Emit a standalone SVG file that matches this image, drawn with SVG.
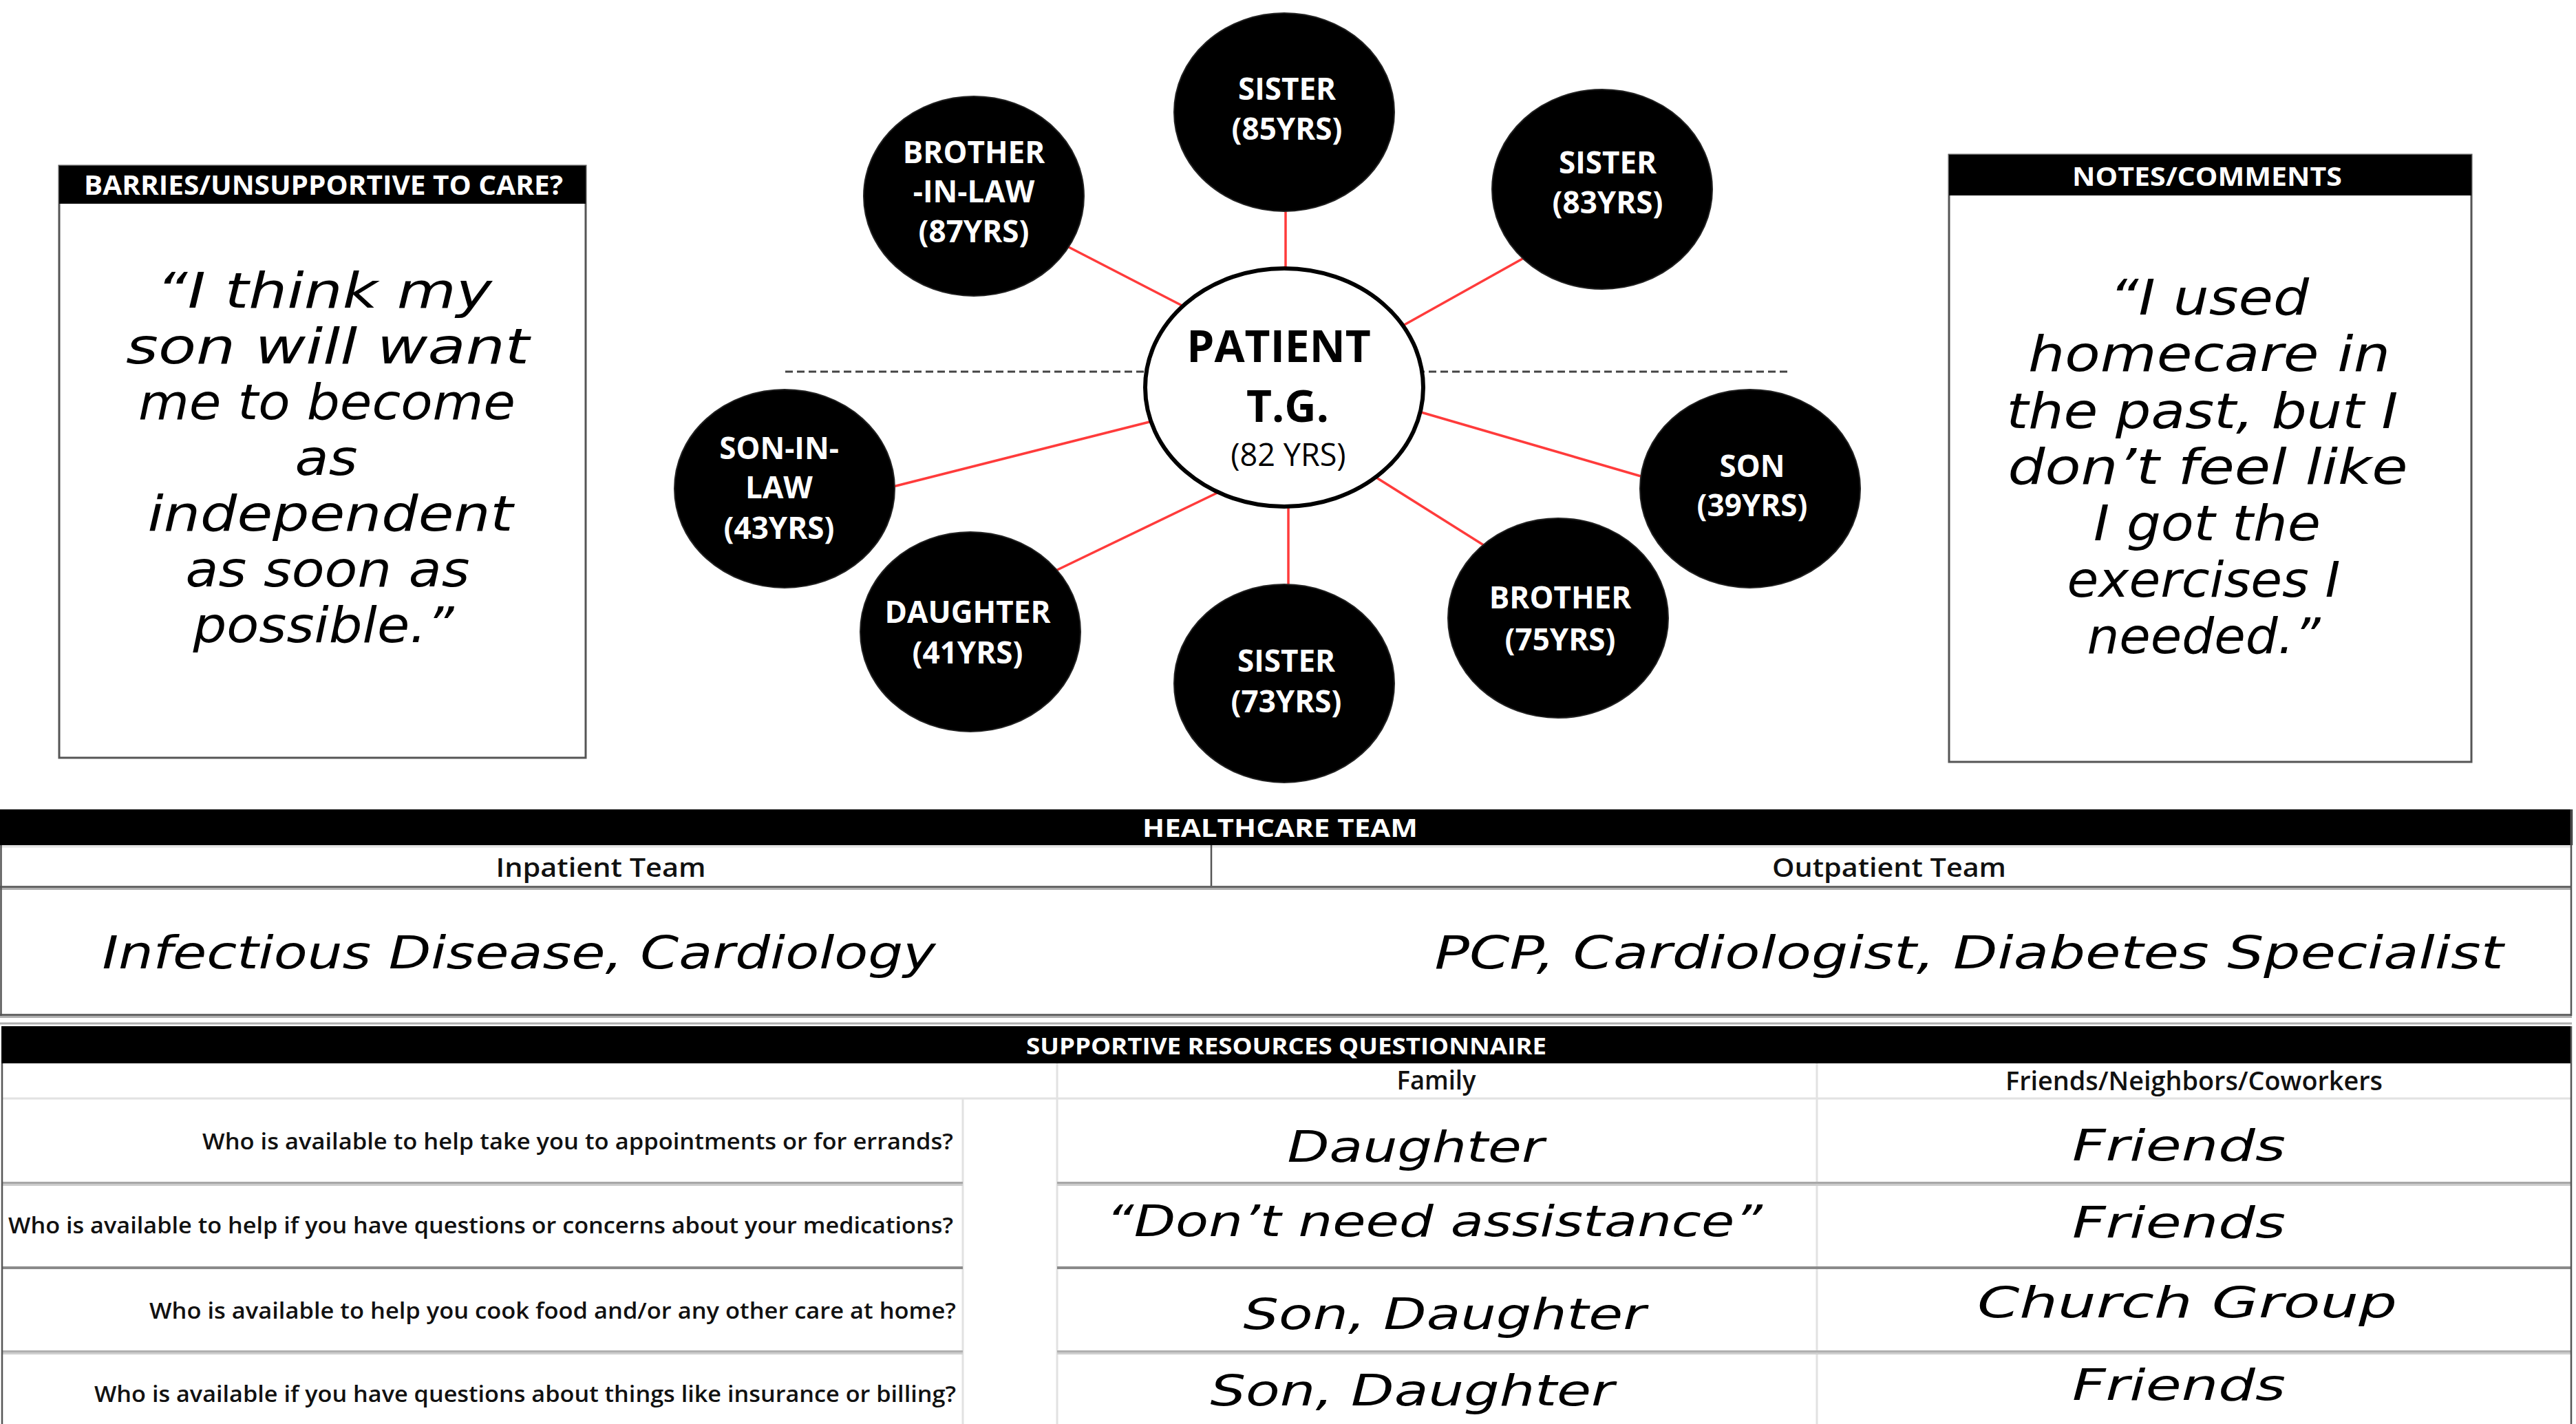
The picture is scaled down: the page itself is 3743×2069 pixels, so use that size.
<svg xmlns="http://www.w3.org/2000/svg" width="3743" height="2069" viewBox="0 0 3743 2069">
<defs>
<style>
.bg{fill:#ffffff}
.node{fill:#000000;stroke:#222222;stroke-width:2}
.nt{fill:#ffffff;font-family:"Open Sans","Liberation Sans",sans-serif;font-weight:700;font-size:44px;text-anchor:middle}
.pt{fill:#000000;font-family:"Open Sans","Liberation Sans",sans-serif;text-anchor:middle}
.conn{stroke:#ff3b3b;stroke-width:3.5;fill:none}
.dash{stroke:#444444;stroke-width:3;stroke-dasharray:11 6;fill:none}
.box{fill:#ffffff;stroke:#555555;stroke-width:3}
.bar{fill:#000000}
.ht{fill:#ffffff;font-family:"Open Sans","Liberation Sans",sans-serif;font-weight:700;text-anchor:middle}
.script{fill:#000000;font-family:"DejaVu Sans","Liberation Sans",sans-serif;font-style:italic;text-anchor:middle}
.sub{fill:#111111;font-family:"Open Sans","Liberation Sans",sans-serif;font-weight:600;font-size:38px;text-anchor:middle}
.q{fill:#111111;font-family:"Open Sans","Liberation Sans",sans-serif;font-weight:600;font-size:32px;text-anchor:end}
.lg{stroke:#e2e2e2;stroke-width:3;fill:none}
.dk{stroke:#666666;stroke-width:3;fill:none}
.lt{stroke:#b0b0b0;stroke-width:3;fill:none}
.bd{stroke:#555555;stroke-width:2.5;fill:none}
</style>
</defs>
<rect class="bg" x="0" y="0" width="3743" height="2069"/>

<!-- Left box -->
<g id="barriers-box">
<rect class="box" x="86" y="241" width="765" height="860"/>
<rect class="bar" x="86" y="241" width="765" height="55"/>
<text class="ht" x="470" y="283" font-size="40" textLength="696" lengthAdjust="spacingAndGlyphs">BARRIES/UNSUPPORTIVE TO CARE?</text>
<g class="script" font-size="72">
<text x="471" y="447" textLength="488" lengthAdjust="spacingAndGlyphs">“I think my</text>
<text x="476" y="528" textLength="586" lengthAdjust="spacingAndGlyphs">son will want</text>
<text x="475" y="609" textLength="548" lengthAdjust="spacingAndGlyphs">me to become</text>
<text x="474" y="690" textLength="91" lengthAdjust="spacingAndGlyphs">as</text>
<text x="480" y="771" textLength="531" lengthAdjust="spacingAndGlyphs">independent</text>
<text x="476" y="852" textLength="413" lengthAdjust="spacingAndGlyphs">as soon as</text>
<text x="470" y="933" textLength="379" lengthAdjust="spacingAndGlyphs">possible.”</text>
</g>
</g>

<!-- Right box -->
<g id="notes-box">
<rect class="box" x="2832" y="225" width="759" height="882"/>
<rect class="bar" x="2832" y="225" width="759" height="59"/>
<text class="ht" x="3207" y="270" font-size="38" textLength="392" lengthAdjust="spacingAndGlyphs">NOTES/COMMENTS</text>
<g class="script" font-size="72">
<text x="3210" y="457" textLength="290" lengthAdjust="spacingAndGlyphs">“I used</text>
<text x="3210" y="539" textLength="526" lengthAdjust="spacingAndGlyphs">homecare in</text>
<text x="3200" y="622" textLength="569" lengthAdjust="spacingAndGlyphs">the past, but I</text>
<text x="3208" y="703" textLength="581" lengthAdjust="spacingAndGlyphs">don’t feel like</text>
<text x="3207" y="785" textLength="330" lengthAdjust="spacingAndGlyphs">I got the</text>
<text x="3202" y="867" textLength="397" lengthAdjust="spacingAndGlyphs">exercises I</text>
<text x="3202" y="949" textLength="339" lengthAdjust="spacingAndGlyphs">needed.”</text>
</g>
</g>

<!-- Divider dashed line -->
<g id="divider">
<line class="dash" x1="1141" y1="540" x2="2600" y2="540"/>
</g>

<!-- Connectors -->
<g id="connectors">
<line class="conn" x1="1868" y1="290" x2="1868" y2="410"/>
<line class="conn" x1="1547" y1="356" x2="1735" y2="453"/>
<line class="conn" x1="2230" y1="366" x2="2035" y2="475"/>
<line class="conn" x1="1286" y1="710" x2="1690" y2="608"/>
<line class="conn" x1="2405" y1="698" x2="2065" y2="599"/>
<line class="conn" x1="1530" y1="831" x2="1775" y2="713"/>
<line class="conn" x1="1872" y1="860" x2="1872" y2="725"/>
<line class="conn" x1="2170" y1="801" x2="2000" y2="694"/>
</g>

<!-- Nodes -->
<g id="patient">
<ellipse cx="1866" cy="563" rx="202" ry="173" fill="#ffffff" stroke="#000000" stroke-width="6"/>
<text class="pt" x="1858" y="526" font-size="64" font-weight="700">PATIENT</text>
<text class="pt" x="1871" y="613" font-size="64" font-weight="700">T.G.</text>
<text class="pt" x="1872" y="677" font-size="45">(82 YRS)</text>
</g>
<g id="sister-85">
<ellipse class="node" cx="1866" cy="163" rx="160" ry="144"/>
<text class="nt" x="1870" y="145">SISTER</text>
<text class="nt" x="1870" y="203">(85YRS)</text>
</g>
<g id="brother-in-law">
<ellipse class="node" cx="1415" cy="285" rx="160" ry="145"/>
<text class="nt" x="1415" y="237">BROTHER</text>
<text class="nt" x="1415" y="294">-IN-LAW</text>
<text class="nt" x="1415" y="352">(87YRS)</text>
</g>
<g id="sister-83">
<ellipse class="node" cx="2328" cy="275" rx="160" ry="145"/>
<text class="nt" x="2336" y="252">SISTER</text>
<text class="nt" x="2336" y="310">(83YRS)</text>
</g>
<g id="son-in-law">
<ellipse class="node" cx="1140" cy="710" rx="160" ry="144"/>
<text class="nt" x="1132" y="667">SON-IN-</text>
<text class="nt" x="1132" y="724">LAW</text>
<text class="nt" x="1132" y="783">(43YRS)</text>
</g>
<g id="son">
<ellipse class="node" cx="2543" cy="710" rx="160" ry="144"/>
<text class="nt" x="2546" y="693">SON</text>
<text class="nt" x="2546" y="750">(39YRS)</text>
</g>
<g id="daughter">
<ellipse class="node" cx="1410" cy="918" rx="160" ry="145"/>
<text class="nt" x="1406" y="905">DAUGHTER</text>
<text class="nt" x="1406" y="964">(41YRS)</text>
</g>
<g id="sister-73">
<ellipse class="node" cx="1866" cy="993" rx="160" ry="144"/>
<text class="nt" x="1869" y="976">SISTER</text>
<text class="nt" x="1869" y="1035">(73YRS)</text>
</g>
<g id="brother">
<ellipse class="node" cx="2264" cy="898" rx="160" ry="145"/>
<text class="nt" x="2267" y="884">BROTHER</text>
<text class="nt" x="2267" y="945">(75YRS)</text>
</g>

<!-- Healthcare team table -->
<g id="healthcare-team">
<rect class="bar" x="0" y="1176" width="3738" height="52"/>
<text class="ht" x="1860" y="1216" font-size="36" textLength="400" lengthAdjust="spacingAndGlyphs">HEALTHCARE TEAM</text>
<line class="lg" x1="0" y1="1230" x2="3736" y2="1230"/>
<line class="bd" x1="1760" y1="1228" x2="1760" y2="1289"/>
<text class="sub" x="873" y="1274" textLength="305" lengthAdjust="spacingAndGlyphs">Inpatient Team</text>
<text class="sub" x="2745" y="1274" textLength="340" lengthAdjust="spacingAndGlyphs">Outpatient Team</text>
<line class="dk" x1="0" y1="1288.5" x2="3737" y2="1288.5"/>
<line class="lt" x1="0" y1="1291.5" x2="3737" y2="1291.5"/>
<text class="script" x="754" y="1407" font-size="66" textLength="1211" lengthAdjust="spacingAndGlyphs">Infectious Disease, Cardiology</text>
<text class="script" x="2861" y="1407" font-size="66" textLength="1553" lengthAdjust="spacingAndGlyphs">PCP, Cardiologist, Diabetes Specialist</text>
<line class="dk" x1="0" y1="1474.5" x2="3737" y2="1474.5"/>
<line class="lt" x1="0" y1="1477.5" x2="3737" y2="1477.5"/>
<line class="bd" x1="1.5" y1="1228" x2="1.5" y2="1476"/>
<line class="bd" x1="3736" y1="1176" x2="3736" y2="1476"/>
</g>

<!-- Supportive resources questionnaire -->
<g id="questionnaire">
<line class="lt" x1="0" y1="1487" x2="3737" y2="1487"/>
<rect class="bar" x="2" y="1491" width="3735" height="54"/>
<text class="ht" x="1869" y="1532" font-size="34" textLength="756" lengthAdjust="spacingAndGlyphs">SUPPORTIVE RESOURCES QUESTIONNAIRE</text>
<line class="lg" x1="1399" y1="1596" x2="1399" y2="2069"/>
<line class="lg" x1="1536" y1="1545" x2="1536" y2="2069"/>
<line class="lg" x1="2640" y1="1545" x2="2640" y2="2069"/>
<line class="lg" x1="3" y1="1596" x2="3736" y2="1596"/>
<text class="sub" x="2087" y="1583" font-size="34" textLength="115" lengthAdjust="spacingAndGlyphs">Family</text>
<text class="sub" x="3188" y="1584" font-size="34" textLength="548" lengthAdjust="spacingAndGlyphs">Friends/Neighbors/Coworkers</text>
<g>
<line stroke="#a8a8a8" stroke-width="3" x1="3" y1="1718.5" x2="1399" y2="1718.5"/>
<line stroke="#cccccc" stroke-width="3" x1="3" y1="1721.5" x2="1399" y2="1721.5"/>
<line stroke="#a8a8a8" stroke-width="3" x1="1536" y1="1718.5" x2="3736" y2="1718.5"/>
<line stroke="#cccccc" stroke-width="3" x1="1536" y1="1721.5" x2="3736" y2="1721.5"/>
<line stroke="#8a8a8a" stroke-width="4" x1="3" y1="1842" x2="1399" y2="1842"/>
<line stroke="#8a8a8a" stroke-width="4" x1="1536" y1="1842" x2="3736" y2="1842"/>
<line stroke="#b0b0b0" stroke-width="3" x1="3" y1="1963.5" x2="1399" y2="1963.5"/>
<line stroke="#cfcfcf" stroke-width="3" x1="3" y1="1966.5" x2="1399" y2="1966.5"/>
<line stroke="#b0b0b0" stroke-width="3" x1="1536" y1="1963.5" x2="3736" y2="1963.5"/>
<line stroke="#cfcfcf" stroke-width="3" x1="1536" y1="1966.5" x2="3736" y2="1966.5"/>
</g>
<line class="bd" x1="3" y1="1545" x2="3" y2="2069"/>
<line class="bd" x1="3736" y1="1491" x2="3736" y2="2069"/>
<text class="q" x="1385" y="1670" textLength="1091" lengthAdjust="spacingAndGlyphs">Who is available to help take you to appointments or for errands?</text>
<text class="q" x="1385" y="1792" textLength="1373" lengthAdjust="spacingAndGlyphs">Who is available to help if you have questions or concerns about your medications?</text>
<text class="q" x="1389" y="1916" textLength="1172" lengthAdjust="spacingAndGlyphs">Who is available to help you cook food and/or any other care at home?</text>
<text class="q" x="1389" y="2037" textLength="1252" lengthAdjust="spacingAndGlyphs">Who is available if you have questions about things like insurance or billing?</text>
<g class="script" font-size="62">
<text x="2057" y="1688" textLength="373" lengthAdjust="spacingAndGlyphs">Daughter</text>
<text x="3166" y="1686" textLength="310" lengthAdjust="spacingAndGlyphs">Friends</text>
<text x="2084" y="1796" textLength="954" lengthAdjust="spacingAndGlyphs">“Don’t need assistance”</text>
<text x="3166" y="1798" textLength="310" lengthAdjust="spacingAndGlyphs">Friends</text>
<text x="2099" y="1931" textLength="585" lengthAdjust="spacingAndGlyphs">Son, Daughter</text>
<text x="3178" y="1914" textLength="610" lengthAdjust="spacingAndGlyphs">Church Group</text>
<text x="2052" y="2042" textLength="587" lengthAdjust="spacingAndGlyphs">Son, Daughter</text>
<text x="3166" y="2034" textLength="310" lengthAdjust="spacingAndGlyphs">Friends</text>
</g>
</g>
</svg>
